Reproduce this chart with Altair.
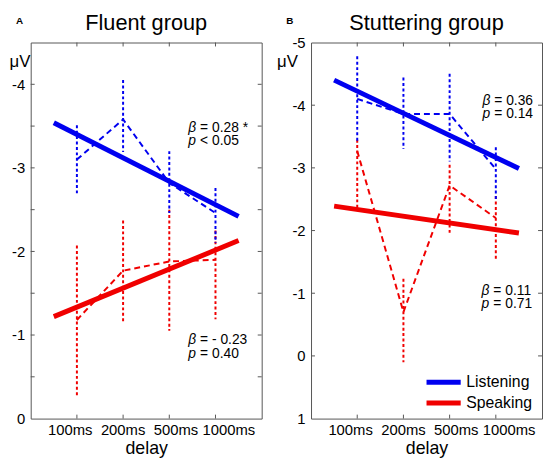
import json
import altair as alt
import pandas as pd

FONT = "Liberation Sans"

# ---------------- data ----------------
delays = ["100ms", "200ms", "500ms", "1000ms"]
conditions = ["Listening", "Speaking"]
colors = ["#0000f0", "#f00000"]

# Fluent group (values in microvolts; lo = more negative end of the error bar)
fluent_listen_mean = [-3.10, -3.58, -2.82, -2.46]
fluent_listen_lo = [-3.51, -4.05, -3.20, -2.76]
fluent_listen_hi = [-2.69, -3.19, -2.46, -2.10]
fluent_speak_mean = [-1.18, -1.77, -1.88, -1.90]
fluent_speak_lo = [-2.07, -2.37, -2.50, -2.25]
fluent_speak_hi = [-0.27, -1.15, -1.05, -1.19]

# Stuttering group
stutter_listen_mean = [-4.10, -3.86, -3.86, -2.98]
stutter_listen_lo = [-4.78, -4.44, -4.50, -3.33]
stutter_listen_hi = [-3.40, -3.30, -3.10, -2.50]
stutter_speak_mean = [-3.27, -0.70, -2.72, -2.20]
stutter_speak_lo = [-3.45, -1.23, -3.05, -2.55]
stutter_speak_hi = [-2.36, 0.10, -1.93, -1.53]

# regression lines (start / end values)
fit_x = [0.5, 4.5]
fluent_listen_fit = [-3.54, -2.42]
fluent_speak_fit = [-1.22, -2.13]
stutter_listen_fit = [-4.40, -2.99]
stutter_speak_fit = [-2.39, -1.96]

# statistics text
fluent_stats = [("β", "= 0.28 *"), ("p", "< 0.05"), ("β", "= - 0.23"), ("p", "= 0.40")]
stutter_stats = [("β", "= 0.36"), ("p", "= 0.14"), ("β", "= 0.11"), ("p", "= 0.71")]

# ---------------- layout constants ----------------
W, H = 234, 381
BOX = "#555555"
TICK = 4
LABEL_SPREAD = 0.144   # tick labels are spread a little wider than the ticks


def series(means, lo, hi, cond):
    return pd.DataFrame({
        "pos": list(range(1, len(delays) + 1)),
        "delay": delays,
        "mean": means,
        "lo": lo,
        "hi": hi,
        "cond": cond,
    })


def fit_df(vals, cond):
    return pd.DataFrame({"pos": fit_x, "val": vals, "cond": cond})


def panel(title, letter, letter_x, listen, speak, fits, y_domain, y_labels,
          y_ticks, stats, stat_pos, mu_x, legend=False):
    xs = alt.Scale(domain=[0, 5], nice=False, zero=False)
    ys = alt.Scale(domain=y_domain, nice=False, zero=False)
    x_axis = alt.Axis(values=[1, 2, 3, 4], labels=False, title="delay",
                      ticks=False, tickSize=0, domain=False, grid=False,
                      titleFontSize=18, titleFontWeight="normal", titleFont=FONT,
                      titleColor="black", titlePadding=21)
    y_axis = alt.Axis(values=y_labels, labelExpr="'' + datum.value", title="μV",
                      ticks=False, tickSize=0, domain=False, grid=False,
                      labelFontSize=15, labelPadding=6, labelFont=FONT,
                      labelColor="black", labelOverlap=False, labelFlush=False,
                      titleFontSize=17, titleFontWeight="normal", titleFont=FONT,
                      titleColor="black", titleAngle=0, titleX=mu_x, titleY=24,
                      titleAlign="left", titleBaseline="alphabetic")

    def X(f):
        return alt.X(f, type="quantitative", scale=xs, axis=x_axis)

    def Y(f):
        return alt.Y(f, type="quantitative", scale=ys, axis=y_axis)

    color = alt.Color("cond:N", scale=alt.Scale(domain=conditions, range=colors),
                      legend=None)

    layers = []
    # inner ticks of the box
    ytk = pd.DataFrame({"v": y_ticks})
    xtk = pd.DataFrame({"p": [1, 2, 3, 4]})
    layers.append(alt.Chart(ytk).mark_rule(color=BOX, strokeWidth=1).encode(
        y=Y("v"), x=alt.value(0), x2=alt.value(TICK)))
    layers.append(alt.Chart(ytk).mark_rule(color=BOX, strokeWidth=1).encode(
        y=Y("v"), x=alt.value(W - TICK), x2=alt.value(W)))
    layers.append(alt.Chart(xtk).mark_rule(color=BOX, strokeWidth=1).encode(
        x=X("p"), y=alt.value(0), y2=alt.value(TICK)))
    layers.append(alt.Chart(xtk).mark_rule(color=BOX, strokeWidth=1).encode(
        x=X("p"), y=alt.value(H - TICK), y2=alt.value(H)))

    # x tick labels
    xl = pd.DataFrame({"pos": [1, 2, 3, 4], "label": delays})
    layers.append(alt.Chart(xl).transform_calculate(
        lx="datum.pos + (datum.pos - 2) * %s" % LABEL_SPREAD
    ).mark_text(align="center", baseline="alphabetic", fontSize=15, font=FONT,
                color="black").encode(
        x=X("lx"), y=alt.value(H + 17), text="label:N"))

    for df in (speak, listen):
        layers.append(alt.Chart(df).mark_rule(strokeDash=[3, 2.5], strokeWidth=2).encode(
            x=X("pos"), y=Y("lo"), y2=alt.Y2("hi"), color=color))
        layers.append(alt.Chart(df).mark_line(strokeDash=[6, 4], strokeWidth=2).encode(
            x=X("pos"), y=Y("mean"), color=color, order="pos:Q"))
    for df in fits:
        layers.append(alt.Chart(df).mark_line(strokeWidth=5, strokeCap="butt").encode(
            x=X("pos"), y=Y("val"), color=color))

    st = pd.DataFrame({
        "sym": [s for s, _ in stats],
        "rest": [r for _, r in stats],
        "x": [p[0] for p in stat_pos],
        "y": [p[1] for p in stat_pos],
    })
    layers.append(alt.Chart(st).mark_text(align="left", baseline="alphabetic",
                                          fontSize=14, font=FONT, fontStyle="italic",
                                          color="black").encode(
        x=X("x"), y=Y("y"), text="sym:N"))
    layers.append(alt.Chart(st).mark_text(align="left", baseline="alphabetic",
                                          fontSize=14, font=FONT, dx=12,
                                          color="black").encode(
        x=X("x"), y=Y("y"), text="rest:N"))

    if legend:
        lg = pd.DataFrame({"cond": conditions, "x1": [2.5, 2.5], "x2": [3.24, 3.24],
                           "tx": [3.36, 3.36], "y": [0.42, 0.75]})
        layers.append(alt.Chart(lg).mark_rule(strokeWidth=5).encode(
            x=X("x1"), x2=alt.X2("x2"), y=Y("y"), color=color))
        layers.append(alt.Chart(lg).mark_text(align="left", baseline="middle",
                                              fontSize=16, font=FONT,
                                              color="black").encode(
            x=X("tx"), y=Y("y"), text="cond:N"))

    # panel letter and panel title
    lt = pd.DataFrame({"t": [letter], "title": [title]})
    layers.append(alt.Chart(lt).mark_text(align="left", baseline="alphabetic",
                                          fontSize=10, font=FONT, fontWeight="bold",
                                          color="black").encode(
        x=alt.value(letter_x), y=alt.value(-19), text="t:N"))
    layers.append(alt.Chart(lt).mark_text(align="center", baseline="alphabetic",
                                          fontSize=22, font=FONT,
                                          color="black").encode(
        x=alt.value(W / 2), y=alt.value(-13), text="title:N"))

    return alt.layer(*layers).properties(width=W, height=H)


left = panel(
    "Fluent group", "A", -15,
    series(fluent_listen_mean, fluent_listen_lo, fluent_listen_hi, "Listening"),
    series(fluent_speak_mean, fluent_speak_lo, fluent_speak_hi, "Speaking"),
    [fit_df(fluent_speak_fit, "Speaking"), fit_df(fluent_listen_fit, "Listening")],
    [0, -4.5], [-4, -3, -2, -1, 0],
    [-4, -3.5, -3, -2.5, -2, -1.5, -1, -0.5],
    fluent_stats, [(3.41, -3.43), (3.41, -3.27), (3.41, -0.89), (3.41, -0.73)],
    mu_x=-22,
)

right = panel(
    "Stuttering group", "B", -25,
    series(stutter_listen_mean, stutter_listen_lo, stutter_listen_hi, "Listening"),
    series(stutter_speak_mean, stutter_speak_lo, stutter_speak_hi, "Speaking"),
    [fit_df(stutter_speak_fit, "Speaking"), fit_df(stutter_listen_fit, "Listening")],
    [1, -5], [-5, -4, -3, -2, -1, 0, 1],
    [-4, -3, -2, -1, 0],
    stutter_stats, [(3.71, -4.01), (3.71, -3.80), (3.69, -0.97), (3.69, -0.77)],
    mu_x=-35, legend=True,
)

chart = alt.hconcat(left, right, spacing=50, bounds="flush").properties(
    padding=0,
    background="white",
).configure(padding=0).configure_view(stroke=BOX, strokeWidth=1)

chart.save("out.html", embed_options={"renderer": "svg", "actions": False})
